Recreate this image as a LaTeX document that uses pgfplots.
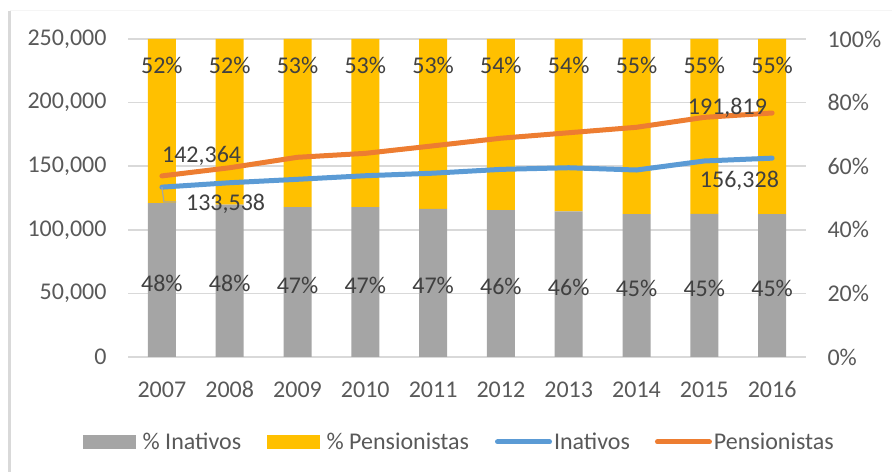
\documentclass[border=0pt]{standalone}
\usepackage{fontspec}
\setmainfont{Carlito}
\usepackage{pgfplots}
\usepackage{pgfplotstable}
\pgfplotsset{compat=1.18}
\definecolor{cgray}{HTML}{A5A5A5}
\definecolor{cyel}{HTML}{FFC000}
\definecolor{cblue}{HTML}{5B9BD5}
\definecolor{corange}{HTML}{ED7D31}
\definecolor{ctick}{HTML}{595959}
\definecolor{clabel}{HTML}{404040}
\definecolor{cgrid}{HTML}{D9D9D9}

\pgfplotstableread{
x g p
0 48.4 51.6
1 47.9 52.1
2 47.1 52.9
3 47.1 52.9
4 46.6 53.4
5 46.2 53.8
6 45.8 54.2
7 44.9 55.1
8 45.0 55.0
9 44.9 55.1
}\pcttable

\pgfplotstableread{
x ina pen
0 133538 142364
1 137000 148800
2 139700 157000
3 142500 160100
4 144500 166000
5 147500 172000
6 148800 176300
7 147000 180600
8 154100 188400
9 156328 191819
}\abstable

\newcommand{\bigf}{\fontsize{24bp}{28bp}\selectfont}

\pgfplotsset{
  base/.style={
    scale only axis, width=678bp, height=318bp,
    xmin=-0.5, xmax=9.5,
    at={(0,0)}, anchor=south west,
    axis line style={draw=none},
    tick style={draw=none},
    major tick length=0pt,
    /pgf/number format/assume math mode=true,
    /pgf/number format/fixed,
    ticklabel style={font=\bigf, text=ctick},
  }
}

\begin{document}
\begin{tikzpicture}
% bars (right axis)
\begin{axis}[base,
  ybar stacked, bar width=28bp,
  ymin=0, ymax=100,
  ytick={0,20,40,60,80,100},
  yticklabel={\pgfmathprintnumber{\tick}\%},
  yticklabel pos=right,
  yticklabel style={xshift=18bp},
  xtick=\empty,
  ymajorgrids, grid style={cgrid, line width=1.5bp},
]
\addplot[fill=cgray, draw=none] table[x=x, y=g] {\pcttable};
\addplot[fill=cyel, draw=none] table[x=x, y=p] {\pcttable};
\end{axis}

% percent labels
\begin{axis}[base, hide axis, ymin=0, ymax=100]
\addplot[draw=none, mark=none, nodes near coords={\pgfmathprintnumber[fixed,precision=0]{\pgfplotspointmeta}\%},
  point meta=explicit,
  every node near coord/.append style={anchor=center, yshift=-3bp, font=\bigf, text=clabel}]
  table[x=x, y expr=\thisrow{g}/2, meta=g] {\pcttable};
\addplot[draw=none, mark=none, nodes near coords={\pgfmathprintnumber[fixed,precision=0]{\pgfplotspointmeta}\%},
  point meta=explicit,
  every node near coord/.append style={anchor=base, font=\bigf, text=clabel}]
  table[x=x, y expr=89, meta=p] {\pcttable};
\end{axis}

% lines (left axis)
\begin{axis}[base,
  ymin=0, ymax=250000,
  ytick={0,50000,100000,150000,200000,250000},
  scaled y ticks=false,
  yticklabel style={/pgf/number format/fixed, /pgf/number format/1000 sep={,}, xshift=-18bp},
  xtick={0,...,9},
  xticklabels={2007,2008,2009,2010,2011,2012,2013,2014,2015,2016},
  xticklabel style={anchor=base, yshift=-40bp},
  legend columns=4,
  legend style={at={(rel axis cs:0.489,-0.267)}, anchor=center, draw=none, fill=none,
    font=\bigf, text=ctick},
]
\addlegendimage{legend image code/.code={\fill[cgray] (0bp,-6.5bp) rectangle (52bp,6.5bp);}}
\addlegendentry{\kern5bp\% Inativos\kern24bp}
\addlegendimage{legend image code/.code={\fill[cyel] (0bp,-6.5bp) rectangle (52bp,6.5bp);}}
\addlegendentry{\kern5bp\% Pensionistas\kern24bp}
\addlegendimage{legend image code/.code={\draw[cblue, line width=5bp, line cap=round] (2.5bp,0) -- (54.5bp,0);}}
\addlegendentry{Inativos\kern23bp}
\addlegendimage{legend image code/.code={\draw[corange, line width=5bp, line cap=round] (2.5bp,0) -- (54.5bp,0);}}
\addlegendentry{Pensionistas}
\addplot[cblue, line width=5bp, line cap=round, line join=round, mark=none, forget plot] table[x=x, y=ina] {\abstable};
\addplot[corange, line width=5bp, line cap=round, line join=round, mark=none, forget plot] table[x=x, y=pen] {\abstable};

\draw[cgray, line width=1.2bp] (axis cs:0,133538) -- (axis cs:0.03,121900) -- (axis cs:0.21,121900);

\addplot[draw=none, mark=none, forget plot, nodes near coords, point meta=explicit symbolic,
  every node near coord/.append style={anchor=base west, inner sep=0pt, yshift=13bp, font=\bigf, text=clabel}]
  coordinates {(0,142364) [142{,}364]};
\addplot[draw=none, mark=none, forget plot, nodes near coords, point meta=explicit symbolic,
  every node near coord/.append style={anchor=base west, inner sep=0pt, xshift=24bp, yshift=-23bp, font=\bigf, text=clabel}]
  coordinates {(0,133538) [133{,}538]};
\addplot[draw=none, mark=none, forget plot, nodes near coords, point meta=explicit symbolic,
  every node near coord/.append style={anchor=base east, inner sep=0pt, xshift=-5bp, yshift=-1bp, font=\bigf, text=clabel}]
  coordinates {(9,191819) [191{,}819]};
\addplot[draw=none, mark=none, forget plot, nodes near coords, point meta=explicit symbolic,
  every node near coord/.append style={anchor=base east, inner sep=0pt, xshift=7bp, yshift=-29bp, font=\bigf, text=clabel}]
  coordinates {(9,156328) [156{,}328]};
\end{axis}

\draw[black!4, line width=1bp] (-118bp,346bp) -- (764bp,346bp);
\draw[cgrid, line width=3bp] (-118bp,346bp) -- (-118bp,-115bp);
\pgfresetboundingbox
\useasboundingbox (-128bp,-115bp) rectangle (764bp,357bp);
\end{tikzpicture}
\end{document}
